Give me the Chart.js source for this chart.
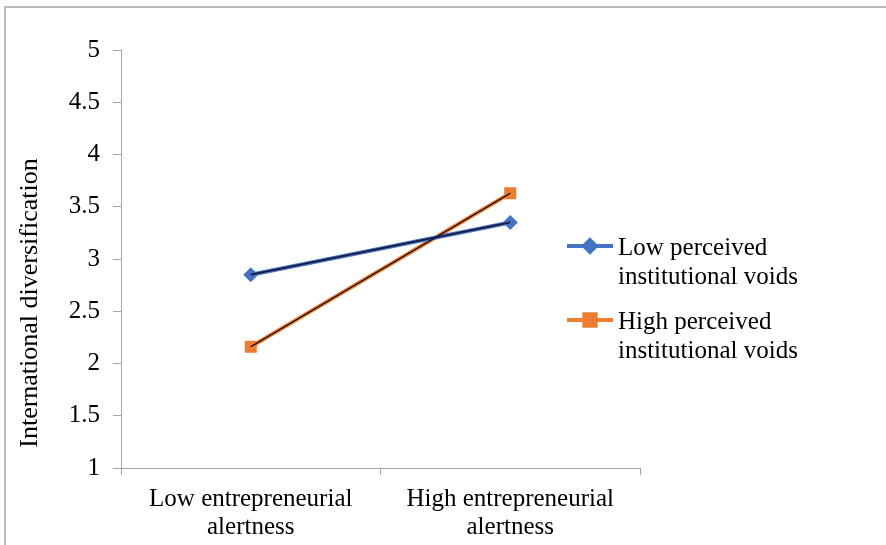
<!DOCTYPE html>
<html>
<head>
<meta charset="utf-8">
<script src="https://cdn.jsdelivr.net/npm/chart.js@4"></script>
<style>
  html, body { margin: 0; padding: 0; background: #fff; }
  #wrap { width: 886px; height: 545px; position: relative; }
</style>
</head>
<body>
<div id="wrap"><canvas id="myChart" width="886" height="545"></canvas></div>
<script>
// categories and series
const categories = [["Low entrepreneurial", "alertness"], ["High entrepreneurial", "alertness"]];
const lowVoids = [2.85, 3.35];
const highVoids = [2.16, 3.63];
const seriesNames = [["Low perceived", "institutional voids"], ["High perceived", "institutional voids"]];
const yTitle = "International diversification";

const FONT = '"Liberation Serif", "Times New Roman", serif';
const BLUE = "#4472C4";
const ORANGE = "#ED7D31";
const AXIS = "#a6a6a6";

// frame, y title and legend drawn by hand (Excel style)
const extras = {
  id: "extras",
  afterDraw(chart) {
    const ctx = chart.ctx;
    ctx.save();

    // outer border: top and left only
    ctx.strokeStyle = "#bcbcbc";
    ctx.lineWidth = 2;
    ctx.beginPath();
    ctx.moveTo(5, 545);
    ctx.lineTo(5, 7);
    ctx.lineTo(886, 7);
    ctx.stroke();

    // vertical axis title
    ctx.fillStyle = "#000";
    ctx.font = "26px " + FONT;
    ctx.save();
    ctx.translate(37, 303);
    ctx.rotate(-Math.PI / 2);
    ctx.textAlign = "center";
    ctx.textBaseline = "alphabetic";
    ctx.fillText(yTitle, 0, 0);
    ctx.restore();

    // legend
    const items = [
      { ds: chart.data.datasets[2], y: 246 },
      { ds: chart.data.datasets[3], y: 320 },
    ];
    items.forEach((it, i) => {
      const ds = it.ds;
      ctx.strokeStyle = ds.borderColor;
      ctx.lineWidth = 4;
      ctx.beginPath();
      ctx.moveTo(567, it.y);
      ctx.lineTo(613, it.y);
      ctx.stroke();
      Chart.helpers.drawPoint(ctx, {
        pointStyle: ds.pointStyle,
        radius: i === 0 ? 6 : 8,
        borderWidth: 1,
      }, 590, it.y);
      ctx.fillStyle = ds.borderColor;
      ctx.fill();

      ctx.fillStyle = "#000";
      ctx.font = "25px " + FONT;
      ctx.textAlign = "left";
      ctx.textBaseline = "alphabetic";
      seriesNames[i].forEach((line, k) => {
        ctx.fillText(line, 618, it.y + 8.5 + k * 29);
      });
    });

    ctx.restore();
  },
};

const ctx = document.getElementById("myChart").getContext("2d");

const config = {
  type: "line",
  data: {
    labels: categories,
    datasets: [
      // thin dark core lines on top
      {
        data: lowVoids,
        borderColor: "#1a1a40",
        borderWidth: 1.8,
        pointRadius: 0,
        fill: false,
      },
      {
        data: highVoids,
        borderColor: "#000",
        borderWidth: 1.2,
        pointRadius: 0,
        fill: false,
      },
      {
        label: "Low perceived institutional voids",
        data: lowVoids,
        borderColor: BLUE,
        backgroundColor: BLUE,
        borderWidth: 4,
        pointStyle: "rectRot",
        pointRadius: 7.5,
        pointBorderWidth: 0,
        fill: false,
      },
      {
        label: "High perceived institutional voids",
        data: highVoids,
        borderColor: ORANGE,
        backgroundColor: ORANGE,
        borderWidth: 4,
        pointStyle: "rect",
        pointRadius: 8.5,
        pointBorderWidth: 0,
        fill: false,
      },
    ],
  },
  options: {
    responsive: false,
    animation: false,
    layout: { padding: { top: 50, right: 246, bottom: 0, left: 0 } },
    plugins: {
      legend: { display: false },
      tooltip: { enabled: false },
    },
    scales: {
      x: {
        offset: true,
        grid: {
          offset: true,
          drawOnChartArea: false,
          drawTicks: true,
          tickLength: 7,
          color: AXIS,
        },
        border: { color: AXIS, width: 1 },
        ticks: {
          color: "#000",
          padding: 10,
          maxRotation: 0,
          autoSkip: false,
          font: { family: FONT, size: 25, lineHeight: 1.14 },
        },
        afterFit(scale) {
          scale.height = 77;
        },
      },
      y: {
        min: 1,
        max: 5,
        grid: {
          drawOnChartArea: false,
          drawTicks: true,
          tickLength: 8,
          color: AXIS,
        },
        border: { color: AXIS, width: 1 },
        ticks: {
          stepSize: 0.5,
          color: "#000",
          padding: 13,
          font: { family: FONT, size: 25 },
          callback: (value) => String(value),
        },
        afterFit(scale) {
          scale.width = 121;
        },
      },
    },
  },
  plugins: [extras],
};

const chart = new Chart(ctx, config);
</script>
</body>
</html>
